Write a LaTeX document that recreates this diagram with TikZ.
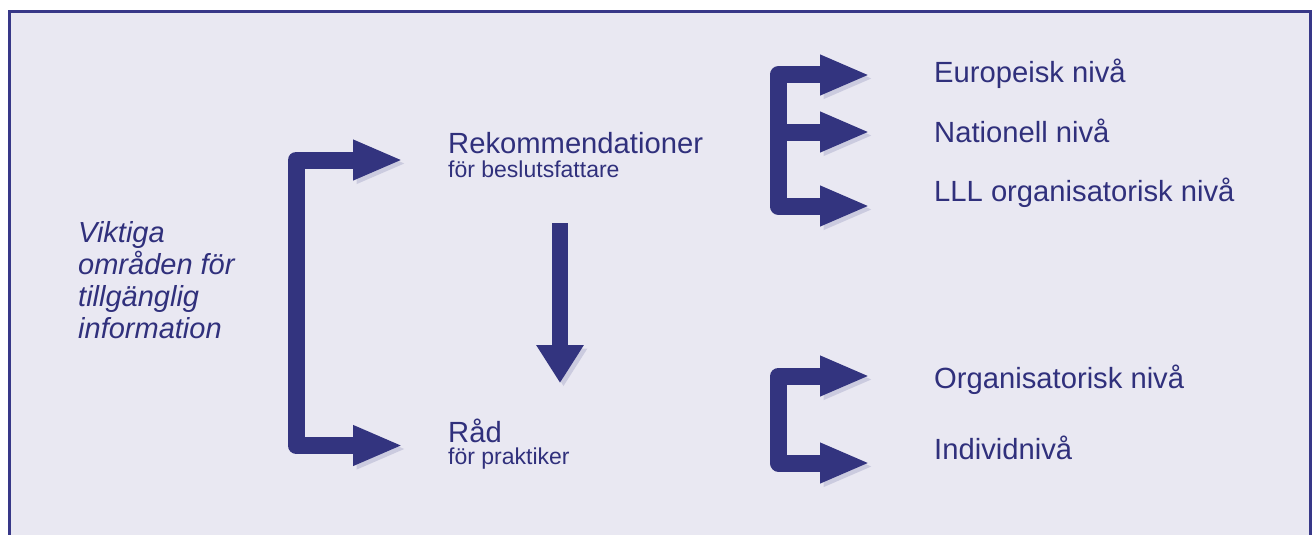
\documentclass[tikz,border=0pt]{standalone}
\usepackage{fontspec}
\setmainfont{Liberation Sans}
\usetikzlibrary{arrows.meta}
\definecolor{bgc}{HTML}{E9E8F2}
\definecolor{framec}{HTML}{383888}
\definecolor{arrc}{HTML}{33347F}
\definecolor{txtc}{HTML}{30307C}
\begin{document}
\begin{tikzpicture}[x=1pt,y=-1pt,
  big/.style={font=\fontsize{29.2}{34}\selectfont, text=txtc, inner sep=0pt, anchor=base west},
  small/.style={font=\fontsize{23}{27}\selectfont, text=txtc, inner sep=0pt, anchor=base west},
  tipA/.tip={Triangle[length=50pt,width=37pt]},
  fatline/.style={draw=arrc, line width=17pt, line join=round,
     preaction={draw=arrc, opacity=0.16, transform canvas={shift={(3.5pt,-3.5pt)}}}},
  fat/.style={fatline, -tipA},
  fattwo/.style={fatline, tipA-tipA},
]
\useasboundingbox (0,0) rectangle (1312,535);
\clip (0,0) rectangle (1312,535);
\fill[white] (0,0) rectangle (1312,535);
\fill[bgc] (9,11) rectangle (1310.5,560);
\draw[framec, line width=3.2pt] (9.5,560) -- (9.5,11.5) -- (1310.5,11.5) -- (1310.5,560);

% texts
\node[big, font=\fontsize{29}{32.2}\selectfont\itshape, align=left, anchor=north west] (vik) at (78,221) {Viktiga\\områden för\\tillgänglig\\information};
\node[big] (rek) at (448,153) {Rekommendationer};
\node[small] (besl) at (448,177) {för beslutsfattare};
\node[big] (rad) at (448,442) {Råd};
\node[small] (prak) at (448,464) {för praktiker};
\node[big] (eur) at (934,83) {Europeisk nivå};
\node[big] (nat) at (934,142) {Nationell nivå};
\node[big] (lll) at (934,201) {LLL organisatorisk nivå};
\node[big] (org) at (934,388) {Organisatorisk nivå};
\node[big] (ind) at (934,459) {Individnivå};

% coordinates for arrows
\coordinate (btop) at (403,160);
\coordinate (bcorner) at (296,445.5);
\coordinate (bbot) at (403,445.5);
\coordinate (etop) at (870,75);
\coordinate (ecorner) at (778,206);
\coordinate (ebot) at (870,206);
\coordinate (emidstart) at (778,132);
\coordinate (emid) at (870,132);
\coordinate (ctop) at (870,376);
\coordinate (ccorner) at (778.5,463);
\coordinate (cbot) at (870,463);
\coordinate (dstart) at (560,223);
\coordinate (dend) at (560,383);

% arrows
\path[fattwo] (btop) -| (bcorner) |- (bbot);
\path[fattwo] (etop) -| (ecorner) |- (ebot);
\path[fat] (emidstart) -- (emid);
\path[fattwo] (ctop) -| (ccorner) |- (cbot);
\path[draw=arrc, line width=16pt, -{Triangle[length=38pt,width=45pt]},
  preaction={draw=arrc, opacity=0.16, transform canvas={shift={(3.5pt,-3.5pt)}}}] (dstart) -- (dend);
\end{tikzpicture}
\end{document}
